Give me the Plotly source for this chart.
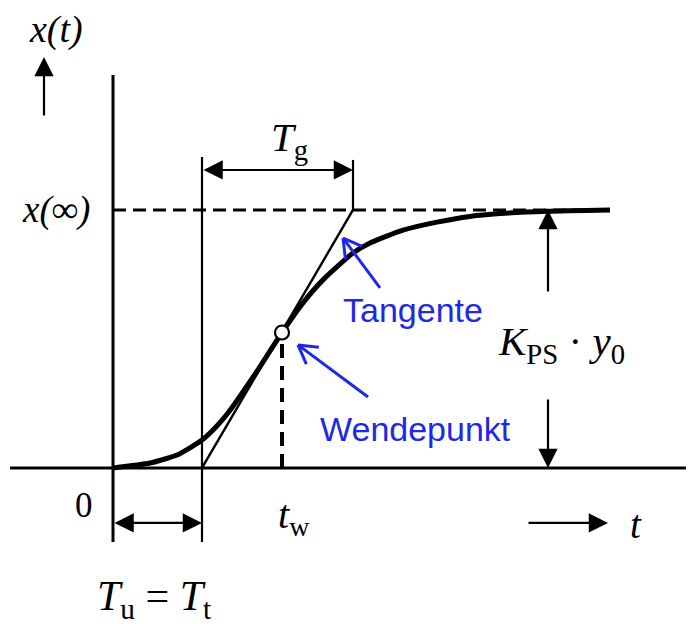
import math
import plotly.graph_objects as go

# Figure size and axis ranges (time axis t, normalised response x)
W, H = 689, 624
XR = [-1.13, 5.76]
YR = [-0.605, 1.814]
SX = W / (XR[1] - XR[0])   # pixels per time unit
SY = H / (YR[1] - YR[0])   # pixels per response unit

# Characteristic times of the step response
T_U = 0.89      # Verzugszeit Tu = Tt
T_G = 1.51      # Ausgleichszeit Tg
T_W = 1.69      # Zeitpunkt des Wendepunkts
X_W = 0.525     # Wert am Wendepunkt
X_INF = 1.0     # Endwert x(inf)
T_END = 4.97

# Step response samples
t_curve = [0.0, 0.37, 0.64, 0.77, 0.89, 1.02, 1.15, 1.44, 1.69, 1.90,
           2.10, 2.40, 2.57, 2.90, 3.24, 3.57, 3.87, 4.34, 4.97]
x_curve = [0.0, 0.019, 0.050, 0.078, 0.108, 0.155, 0.213, 0.375, 0.525, 0.640,
           0.729, 0.833, 0.872, 0.922, 0.953, 0.975, 0.986, 0.995, 1.0]

SERIF = "Liberation Serif"
SANS = "Liberation Sans"
BLUE = "#1e28e8"
BLACK = "#000000"

fig = go.Figure()


def line(xs, ys, width=2.0, color=BLACK, dash=None):
    fig.add_trace(go.Scatter(
        x=xs, y=ys, mode="lines", hoverinfo="skip",
        line=dict(color=color, width=width, dash=dash)))


# Axes
line([-1.03, 5.73], [0, 0], width=3)
line([0, 0], [-0.287, 1.523], width=3)

# Final value level
line([0, T_END], [X_INF, X_INF], width=3, dash="13px,7px")

# Vertical marker lines at Tu and Tu+Tg
line([T_U, T_U], [-0.287, 1.205], width=2.2)
line([T_U + T_G, T_U + T_G], [X_INF, 1.194], width=2.2)

# Tangent through the inflection point
line([T_U, T_U + T_G], [0, X_INF], width=2.4)

# Dashed drop line from the inflection point
line([T_W, T_W], [0, X_W], width=4, dash="14px,8px")

# Step response
fig.add_trace(go.Scatter(
    x=t_curve, y=x_curve, mode="lines", hoverinfo="skip",
    line=dict(color=BLACK, width=5, shape="spline", smoothing=0.6)))

# Inflection point marker
fig.add_trace(go.Scatter(
    x=[T_W], y=[X_W], mode="markers", hoverinfo="skip",
    marker=dict(size=14, color="white", line=dict(color=BLACK, width=2.2))))


def chevron_arrow(tip, tail, color=BLUE, width=3, arm=21, half_angle=30):
    """Open-headed arrow drawn as lines (arm length in pixels)."""
    dx = (tail[0] - tip[0]) * SX
    dy = (tail[1] - tip[1]) * SY
    n = math.hypot(dx, dy)
    ux, uy = dx / n, dy / n
    a = math.radians(half_angle)
    line([tail[0], tip[0]], [tail[1], tip[1]], width=width, color=color)
    for s in (1, -1):
        rx = ux * math.cos(s * a) - uy * math.sin(s * a)
        ry = ux * math.sin(s * a) + uy * math.cos(s * a)
        line([tip[0], tip[0] + rx * arm / SX], [tip[1], tip[1] + ry * arm / SY],
             width=width, color=color)


chevron_arrow((2.30, 0.891), (2.67, 0.698))
chevron_arrow((1.85, 0.477), (2.55, 0.275))

annotations = []


def arrow(x0, y0, x1, y1, both=False, width=2.2, size=1.75):
    annotations.append(dict(
        x=x1, y=y1, ax=x0, ay=y0, xref="x", yref="y", axref="x", ayref="y",
        text="", showarrow=True, arrowhead=2, startarrowhead=2,
        arrowside="end+start" if both else "end",
        arrowsize=size, startarrowsize=size, arrowwidth=width, arrowcolor=BLACK))


arrow(T_U, 1.155, T_U + T_G, 1.155, both=True)        # Tg
arrow(0, -0.213, T_U, -0.213, both=True)              # Tu
arrow(4.35, 0.678, 4.35, X_INF)                       # K_PS*y0 up
arrow(4.35, 0.271, 4.35, 0)                           # K_PS*y0 down
arrow(-0.69, 1.36, -0.69, 1.593)                      # x(t) axis hint
arrow(4.14, -0.213, 4.95, -0.213)                     # t axis hint


def label(text, x, y, size=38, family=SERIF, color=BLACK):
    annotations.append(dict(
        x=x, y=y, xref="x", yref="y", text=text, showarrow=False,
        xanchor="center", yanchor="middle",
        font=dict(family=family, size=size, color=color)))


label("<i>x(t)</i>", -0.57, 1.70, size=38)
label("<i>x(∞)</i>", -0.57, 1.0, size=37)
label("<i>T</i><sub>g</sub>", 1.76, 1.27, size=41)
label("0", -0.29, -0.147, size=35)
label("<i>t</i><sub>w</sub>", 1.81, -0.19, size=40)
label("<i>T</i><sub>u</sub> = <i>T</i><sub>t</sub>", 0.41, -0.51, size=42)
label("<i>K</i><sub>PS</sub> · <i>y</i><sub>0</sub>", 4.48, 0.48, size=41)
label("<i>t</i>", 5.23, -0.22, size=39)
label("Tangente", 3.00, 0.612, size=34, family=SANS, color=BLUE)
label("Wendepunkt", 3.02, 0.15, size=34, family=SANS, color=BLUE)

fig.update_layout(
    width=W, height=H, margin=dict(l=0, r=0, t=0, b=0),
    paper_bgcolor="white", plot_bgcolor="white", showlegend=False,
    annotations=annotations,
    xaxis=dict(range=XR, visible=False, fixedrange=True),
    yaxis=dict(range=YR, visible=False, fixedrange=True),
)

fig.write_html("out.html")
